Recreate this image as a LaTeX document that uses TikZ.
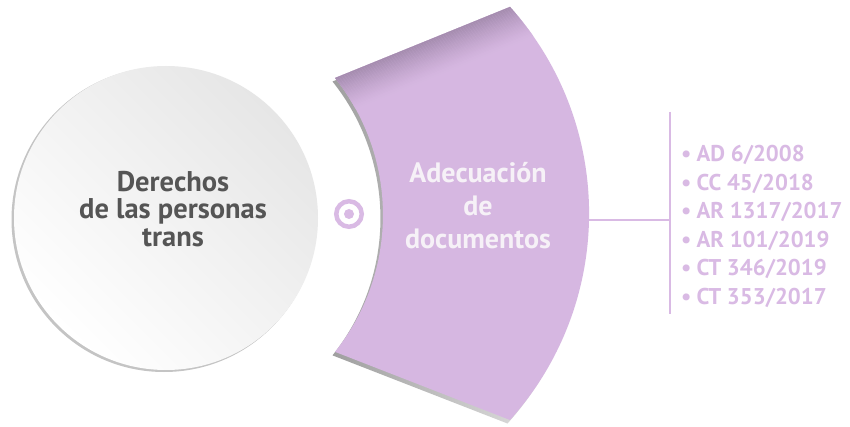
\documentclass[tikz,border=0pt]{standalone}
\usepackage{fontspec}
\setmainfont{PT Sans}
\definecolor{bandfill}{RGB}{214,183,225}
\definecolor{banddark}{RGB}{165,140,175}
\definecolor{listc}{RGB}{217,186,228}
\definecolor{circtop}{RGB}{230,230,230}
\definecolor{circmid}{RGB}{249,249,249}
\definecolor{rimc}{RGB}{196,196,196}
\definecolor{textgray}{RGB}{85,85,85}
\definecolor{bandtext}{RGB}{246,241,247}
\tikzset{
  circtext/.style={align=center, text=textgray, font={\fontsize{28.5}{27.5}\selectfont\bfseries}, inner sep=0pt},
  bandtextstyle/.style={align=center, text=bandtext, font={\fontsize{28}{33}\selectfont\bfseries}, inner sep=0pt},
  listitem/.style={anchor=base west, text=listc, font={\fontsize{22.8}{24}\selectfont\bfseries}, inner sep=0pt},
  connline/.style={draw=listc, line width=1.8pt},
}
\begin{document}
\begin{tikzpicture}[x=1pt,y=1pt]
\useasboundingbox (0,0) rectangle (850,426);
\fill[white] (0,0) rectangle (850,426);
% big circle with rim
\fill[rimc] (164,206.5) circle[radius=152.5pt];
\shade[top color=circtop, middle color=circmid, bottom color=white, shading angle=-45] (166,208) circle[radius=152pt];
\node[circtext] (rights) at (173,217) {Derechos\\de las personas\\trans};
% target mark
\draw[listc, line width=4.5pt] (349,212) circle[radius=12.75pt];
\fill[listc] (349,212) circle[radius=5pt];
% band shadow
\begin{scope}[shift={(-2.5,-3.5)}]
\shade[left color=gray!75, right color=gray!8]
  (510,6) arc[start angle=-41.9, end angle=41.9, radius=309.3pt] -- (335,348)
  arc[start angle=38.6, end angle=-38.6, radius=219.5pt] -- cycle;
\end{scope}
% band
\fill[bandfill]
  (510,6) arc[start angle=-41.9, end angle=41.9, radius=309.3pt] -- (335,348)
  arc[start angle=38.6, end angle=-38.6, radius=219.5pt] -- cycle;
\begin{scope}
\clip (510,6) arc[start angle=-41.9, end angle=41.9, radius=309.3pt] -- (335,348)
  arc[start angle=38.6, end angle=-38.6, radius=219.5pt] -- cycle;
\begin{scope}[shift={(335,348)}, rotate=22.1]
\foreach \i in {0,...,29} {
  \pgfmathsetmacro{\p}{100*(1-\i/30)^1.3}
  \fill[banddark!\p!bandfill] (-30,{-1.2*\i-1.3}) rectangle (260,{-1.2*\i+0.05});
}
\fill[banddark] (-30,0) rectangle (260,40);
\end{scope}
\end{scope}
\node[bandtextstyle] (adec) at (478,220.5) {Adecuación\\de\\documentos};
% connector
\coordinate (apex) at (589,206);
\coordinate (bartop) at (670,314);
\coordinate (barbot) at (670,112);
\coordinate (barmid) at (670,206);
\draw[connline] (apex) -- (barmid);
\draw[connline] (bartop) -- (barbot);
% list
\node[listitem] (l1) at (681,264.3) {\textbullet\hspace{5pt}AD 6/2008};
\node[listitem] (l2) at (681,235.8) {\textbullet\hspace{5pt}CC 45/2018};
\node[listitem] (l3) at (681,207.3) {\textbullet\hspace{5pt}AR 1317/2017};
\node[listitem] (l4) at (681,178.8) {\textbullet\hspace{5pt}AR 101/2019};
\node[listitem] (l5) at (681,150.3) {\textbullet\hspace{5pt}CT 346/2019};
\node[listitem] (l6) at (681,121.8) {\textbullet\hspace{5pt}CT 353/2017};
\end{tikzpicture}
\end{document}
